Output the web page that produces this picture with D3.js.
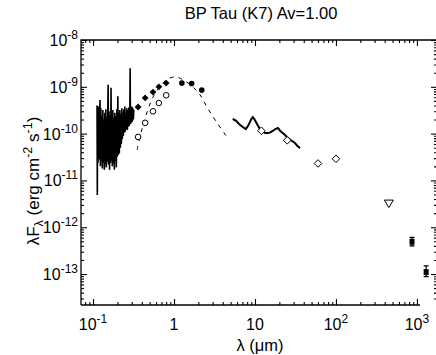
<!DOCTYPE html>
<html>
<head>
<meta charset="utf-8">
<script src="https://cdn.jsdelivr.net/npm/d3@7"></script>
<style>
body { margin: 0; background: #fff; }
svg { display: block; font-family: "Liberation Sans", Arial, Helvetica, sans-serif; }
</style>
</head>
<body>
<div id="chart"></div>
<script>
// UV / optical spectrum (um, erg cm-2 s-1)
const specWave = [0.1120, 0.1129, 0.1139, 0.1152, 0.1168, 0.1186, 0.1203, 0.1220, 0.1234, 0.1248,
  0.1265, 0.1283, 0.1303, 0.1322, 0.1342, 0.1360, 0.1380, 0.1399, 0.1418, 0.1439,
  0.1460, 0.1480, 0.1503, 0.1523, 0.1537, 0.1553, 0.1576, 0.1599, 0.1622, 0.1645,
  0.1668, 0.1687, 0.1706, 0.1731, 0.1756, 0.1781, 0.1806, 0.1832, 0.1858, 0.1885,
  0.1912, 0.1940, 0.1967, 0.1996, 0.2024, 0.2053, 0.2082, 0.2112, 0.2142, 0.2173,
  0.2204, 0.2236, 0.2267, 0.2300, 0.2333, 0.2366, 0.2400, 0.2434, 0.2470, 0.2505,
  0.2541, 0.2577, 0.2614, 0.2652, 0.2690, 0.2728, 0.2767, 0.2807, 0.2847, 0.2872,
  0.2896, 0.2929, 0.2971, 0.3013, 0.3056, 0.3100, 0.3145, 0.3190];
const specFlux = [4.0e-10, 4.9e-12, 2.8e-10, 2.4e-11, 3.8e-10, 2.8e-11, 2.5e-10, 5.2e-10, 2.0e-11, 3.5e-10,
  2.6e-11, 2.4e-10, 1.8e-11, 3.2e-10, 2.4e-11, 2.0e-10, 1.7e-11, 2.8e-10, 2.2e-11, 3.3e-10,
  1.9e-11, 2.2e-10, 2.5e-11, 4.0e-10, 1.1e-9, 2.2e-11, 3.0e-10, 1.7e-11, 2.5e-10, 2.4e-11,
  9.5e-10, 2.8e-11, 2.6e-10, 2.0e-11, 3.2e-10, 2.3e-11, 2.2e-10, 1.7e-11, 2.8e-10, 2.6e-11,
  2.4e-10, 1.9e-11, 3.3e-10, 3.2e-11, 6.3e-10, 3.5e-11, 2.8e-10, 3.8e-11, 3.2e-10, 5.0e-11,
  2.6e-10, 6.0e-11, 3.5e-10, 7.6e-11, 2.8e-10, 8.9e-11, 3.3e-10, 1.05e-10, 3.8e-10, 1.1e-10,
  2.8e-10, 1.25e-10, 3.5e-10, 1.2e-10, 3.2e-10, 1.4e-10, 3.6e-10, 1.45e-10, 3.2e-10, 2.5e-9,
  1.6e-10, 3.5e-10, 1.7e-10, 3.8e-10, 1.8e-10, 3.5e-10, 2.0e-10, 3.2e-10];

// IRS spectrum
const irsWave = [5.3, 5.8, 6.5, 7.0, 7.7, 8.3, 9.0, 9.4, 9.9, 10.6, 11.5, 12.4, 13.3, 14.3,
  15.3, 16.5, 17.8, 19.2, 20.5, 22.0, 23.5, 24.8, 26.5, 28.5, 31.2, 33.5, 36];
const irsFlux = [2.05e-10, 1.9e-10, 1.55e-10, 1.4e-10, 1.25e-10, 1.5e-10, 2.05e-10, 2.25e-10, 2.0e-10,
  1.6e-10, 1.25e-10, 1.14e-10, 1.03e-10, 1.03e-10, 1.05e-10, 1.14e-10, 1.25e-10, 1.32e-10, 1.14e-10,
  1.03e-10, 9.3e-11, 8.5e-11, 7.7e-11, 7.0e-11, 6.3e-11, 5.4e-11, 4.9e-11];

// photosphere (dashed)
const photWave = [0.35, 0.40, 0.44, 0.50, 0.55, 0.65, 0.80, 0.95, 1.1, 1.3, 1.6, 2.1, 2.6, 3.4, 4.5];
const photFlux = [4.5e-11, 1.2e-10, 2.15e-10, 4.1e-10, 6.0e-10, 9.4e-10, 1.4e-9, 1.6e-9, 1.6e-9,
  1.4e-9, 1.1e-9, 6.7e-10, 3.5e-10, 1.7e-10, 8.5e-11];

// photometry
const optWave = [0.36, 0.44, 0.55, 0.65, 0.80];           // filled diamonds
const optFlux = [3.7e-10, 5.8e-10, 7.7e-10, 1.0e-9, 1.2e-9];
const obsWave = [0.36, 0.44, 0.55, 0.65, 0.80];           // open circles
const obsFlux = [8.5e-11, 1.7e-10, 3.0e-10, 4.5e-10, 6.6e-10];
const nirWave = [1.25, 1.65, 2.2];                        // filled circles
const nirFlux = [1.2e-9, 1.18e-9, 8.5e-10];
const irasWave = [12, 25, 60, 100];                       // open diamonds
const irasFlux = [1.15e-10, 7.2e-11, 2.3e-11, 2.9e-11];
const limWave = [450];                                    // upper limit
const limFlux = [3.2e-12];
const mmWave = [870, 1300];                               // filled squares
const mmFlux = [4.9e-13, 1.1e-13];
const mmLo = [4.0e-13, 0.88e-13];
const mmHi = [6.1e-13, 1.5e-13];

const xMajor = [0.1, 1, 10, 100, 1000];
const xLabels = [["10", "-1"], ["1", ""], ["10", ""], ["10", "2"], ["10", "3"]];
const yMajor = [1e-8, 1e-9, 1e-10, 1e-11, 1e-12, 1e-13];
const yLabels = ["-8", "-9", "-10", "-11", "-12", "-13"];

const W = 436, H = 355;
const L = 81, R = 437, T = 40, B = 305;

const x = d3.scaleLog().domain([0.071, 1770]).range([L, R]);
const y = d3.scaleLog().domain([2.18e-14, 1e-8]).range([B, T]);

const svg = d3.select('#chart').append('svg')
  .attr('width', W).attr('height', H);

function minors(scale) {
  let d = scale.domain(), out = [];
  for (let e = Math.floor(Math.log10(d[0])); e <= Math.ceil(Math.log10(d[1])); e++) {
    for (let m = 2; m <= 9; m++) {
      let v = m * Math.pow(10, e);
      if (v > d[0] && v < d[1]) out.push(v);
    }
  }
  return out;
}
const xMinor = minors(x), yMinor = minors(y);

function drawAxis(gen, tx, ty, vals, size) {
  let g = svg.append('g').attr('transform', `translate(${tx},${ty})`)
    .call(gen.tickValues(vals).tickSize(size).tickSizeOuter(0).tickFormat(''));
  g.select('.domain').remove();
  g.selectAll('line').attr('stroke', '#000').attr('stroke-width', 1.1);
  return g;
}

drawAxis(d3.axisBottom(x), 0, B, xMajor, -6);
drawAxis(d3.axisBottom(x), 0, B, xMinor, -3);
drawAxis(d3.axisTop(x), 0, T, xMajor, -6);
drawAxis(d3.axisTop(x), 0, T, xMinor, -3);
drawAxis(d3.axisLeft(y), L, 0, yMajor, -6);
drawAxis(d3.axisLeft(y), L, 0, yMinor, -3);
drawAxis(d3.axisRight(y), R, 0, yMajor, -6);
drawAxis(d3.axisRight(y), R, 0, yMinor, -3);

// frame
svg.append('path')
  .attr('d', `M${L},${B}H420M${L},${B}V${T}H${R}V${B}`)
  .attr('fill', 'none').attr('stroke', '#000').attr('stroke-width', 1.3);

// tick labels
xMajor.forEach((v, i) => {
  let t = svg.append('text').attr('x', x(v)).attr('y', 330)
    .attr('text-anchor', 'middle').attr('font-size', 16);
  t.append('tspan').text(xLabels[i][0]);
  if (xLabels[i][1]) t.append('tspan').attr('dy', -7).attr('font-size', 12).text(xLabels[i][1]);
});
yMajor.forEach((v, i) => {
  let t = svg.append('text').attr('x', 78).attr('y', y(v) + 6)
    .attr('text-anchor', 'end').attr('font-size', 16);
  t.append('tspan').text('10');
  t.append('tspan').attr('dy', -7).attr('font-size', 12).text(yLabels[i]);
});

// titles
svg.append('text').attr('x', 261).attr('y', 19).attr('text-anchor', 'middle')
  .attr('font-size', 16.5).text('BP Tau (K7) Av=1.00');
svg.append('text').attr('x', 260).attr('y', 351).attr('text-anchor', 'middle')
  .attr('font-size', 16.5).text('λ (μm)');
let yl = svg.append('text').attr('transform', 'translate(39,181) rotate(-90)')
  .attr('text-anchor', 'middle').attr('font-size', 17);
yl.append('tspan').text('λF');
yl.append('tspan').attr('dy', 4).attr('font-size', 12.5).text('λ');
yl.append('tspan').attr('dy', -4).text(' (erg cm');
yl.append('tspan').attr('dy', -7).attr('font-size', 12.5).text('-2');
yl.append('tspan').attr('dy', 7).text(' s');
yl.append('tspan').attr('dy', -7).attr('font-size', 12.5).text('-1');
yl.append('tspan').attr('dy', 7).text(')');

// lines
const line = d3.line().x(d => x(d[0])).y(d => y(d[1]));
svg.append('path').datum(specWave.map((w, i) => [w, specFlux[i]]))
  .attr('d', line).attr('fill', 'none').attr('stroke', '#000').attr('stroke-width', 1.6);
svg.append('path').datum(irsWave.map((w, i) => [w, irsFlux[i]]))
  .attr('d', line).attr('fill', 'none').attr('stroke', '#000').attr('stroke-width', 2);
svg.append('path').datum(photWave.map((w, i) => [w, photFlux[i]]))
  .attr('d', line.curve(d3.curveCatmullRom)).attr('fill', 'none').attr('stroke', '#000')
  .attr('stroke-width', 1).attr('stroke-dasharray', '4,5');

// markers
function diamond(cx, cy, r) {
  return `M${cx},${cy - r}L${cx + r},${cy}L${cx},${cy + r}L${cx - r},${cy}Z`;
}
optWave.forEach((w, i) => svg.append('path').attr('d', diamond(x(w), y(optFlux[i]), 3.4)).attr('fill', '#000'));
obsWave.forEach((w, i) => svg.append('circle').attr('cx', x(w)).attr('cy', y(obsFlux[i])).attr('r', 2.8)
  .attr('fill', '#fff').attr('stroke', '#000').attr('stroke-width', 1));
nirWave.forEach((w, i) => svg.append('circle').attr('cx', x(w)).attr('cy', y(nirFlux[i])).attr('r', 2.8).attr('fill', '#000'));
irasWave.forEach((w, i) => svg.append('path').attr('d', diamond(x(w), y(irasFlux[i]), 3.8))
  .attr('fill', '#fff').attr('stroke', '#000').attr('stroke-width', 1));
limWave.forEach((w, i) => {
  let cx = x(w), cy = y(limFlux[i]);
  svg.append('path').attr('d', `M${cx - 4.5},${cy - 3.5}H${cx + 4.5}L${cx},${cy + 4}Z`)
    .attr('fill', 'none').attr('stroke', '#000').attr('stroke-width', 1);
});
mmWave.forEach((w, i) => {
  let cx = x(w);
  svg.append('path')
    .attr('d', `M${cx},${y(mmLo[i])}V${y(mmHi[i])}M${cx - 2.5},${y(mmLo[i])}h5M${cx - 2.5},${y(mmHi[i])}h5`)
    .attr('stroke', '#000').attr('stroke-width', 1.2);
  svg.append('rect').attr('x', cx - 2.5).attr('y', y(mmFlux[i]) - 3).attr('width', 5).attr('height', 6).attr('fill', '#000');
});
</script>
</body>
</html>
